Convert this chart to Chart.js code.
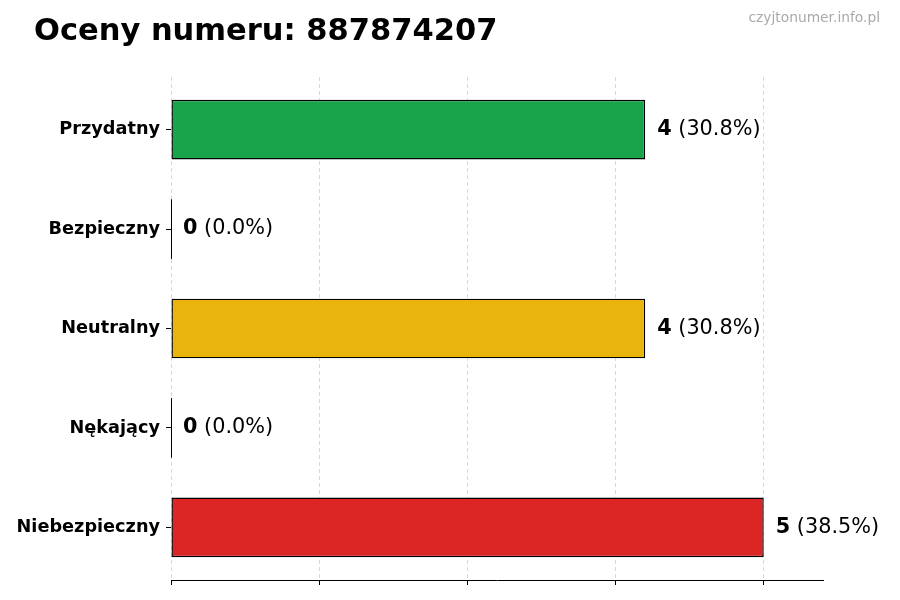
<!DOCTYPE html>
<html><head><meta charset="utf-8">
<script src="https://cdn.jsdelivr.net/npm/chart.js@4/dist/chart.umd.min.js"></script>
<style>html,body{margin:0;padding:0;background:#fff}#wrap{width:900px;height:600px}</style>
</head><body><div id="wrap"><canvas id="c" width="900" height="600"></canvas></div>
<script>
const titleText = 'Oceny numeru: 887874207';
const watermark = 'czyjtonumer.info.pl';
const categories = ['Przydatny', 'Bezpieczny', 'Neutralny', 'Nękający', 'Niebezpieczny'];
const counts = [4, 0, 4, 0, 5];
const barColors = ['#17a44b', '#17a44b', '#e9b40b', '#dc2626', '#dc2626'];
const xTickValues = [0, 1.25, 2.5, 3.75, 5];
const xMax = 5.5;

const total = counts.reduce((a, b) => a + b, 0);
const FONT = '"DejaVu Sans", sans-serif';

const overlay = {
  id: 'overlay',
  afterDraw(chart) {
    const ctx = chart.ctx;
    ctx.save();
    ctx.fillStyle = '#000';
    ctx.font = 'bold 30.5px ' + FONT;
    ctx.textAlign = 'left';
    ctx.textBaseline = 'alphabetic';
    ctx.fillText(titleText, 34, 40);
    ctx.fillStyle = '#aaaaaa';
    ctx.font = '13.8px ' + FONT;
    ctx.textAlign = 'right';
    ctx.fillText(watermark, 880, 22);

    const meta = chart.getDatasetMeta(0);
    meta.data.forEach((bar, i) => {
      const v = counts[i];
      const yc = bar.y;
      if (v === 0) {
        ctx.strokeStyle = '#000';
        ctx.lineWidth = 1;
        ctx.beginPath();
        ctx.moveTo(bar.x + 0.5, yc - bar.height / 2);
        ctx.lineTo(bar.x + 0.5, yc + bar.height / 2);
        ctx.stroke();
      }
      const pct = total ? (v / total * 100).toFixed(1) : '0.0';
      let x = bar.x + 12;
      ctx.textAlign = 'left';
      ctx.textBaseline = 'middle';
      ctx.fillStyle = '#000';
      ctx.font = 'bold 20.8px ' + FONT;
      const s1 = String(v);
      ctx.fillText(s1, x, yc);
      x += ctx.measureText(s1).width;
      ctx.font = '20.8px ' + FONT;
      ctx.fillText(' (' + pct + '%)', x, yc);
    });
    ctx.restore();
  }
};

new Chart(document.getElementById('c'), {
  type: 'bar',
  data: {
    datasets: [{
      data: counts.map((v, i) => ({ x: v, y: i })),
      backgroundColor: barColors,
      borderColor: '#000',
      borderWidth: 1.4,
      borderSkipped: false,
      barPercentage: 0.6,
      categoryPercentage: 1.0
    }]
  },
  options: {
    indexAxis: 'y',
    responsive: false,
    animation: false,
    devicePixelRatio: 1,
    layout: { padding: { left: 0, top: 77, right: 77, bottom: 0 } },
    plugins: { legend: { display: false }, title: { display: false }, tooltip: { enabled: false } },
    scales: {
      x: {
        type: 'linear',
        min: 0, max: xMax,
        z: 1,
        afterBuildTicks(scale) { scale.ticks = xTickValues.map(v => ({ value: v })); },
        afterFit(scale) { scale.height = 20; },
        ticks: { display: false },
        grid: {
          color: 'rgba(200,200,200,0.7)', lineWidth: 1,
          drawTicks: true, tickLength: 5, tickColor: '#000', tickWidth: 1
        },
        border: { display: true, color: '#000', width: 1, dash: [4, 3] }
      },
      y: {
        type: 'linear',
        reverse: true,
        offset: false,
        min: -0.53, max: categories.length - 1 + 0.53,
        afterBuildTicks(scale) { scale.ticks = categories.map((c, i) => ({ value: i })); },
        afterFit(scale) { scale.width = 171; },
        ticks: {
          color: '#000', font: { family: FONT, size: 17.7, weight: 'bold' }, padding: 6,
          callback: (v) => categories[v]
        },
        grid: { offset: false, drawOnChartArea: false, drawTicks: true, tickLength: 5, tickColor: '#000', color: '#000' },
        border: { display: false }
      }
    }
  },
  plugins: [overlay]
});
</script></body></html>
